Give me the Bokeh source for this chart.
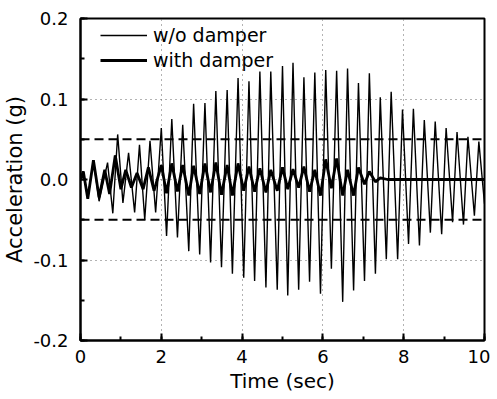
from bokeh.plotting import figure
from bokeh.models import (Range1d, Span, Legend, LegendItem,
                          SingleIntervalTicker, NumeralTickFormatter)
from bokeh.embed import file_html
from bokeh.resources import INLINE

# ---- data (extrema of each record) ----
t_wo = [0.00, 0.07, 0.18, 0.32, 0.46, 0.67, 0.80, 0.92, 1.05, 1.19, 1.34, 1.46,
        1.59, 1.72, 1.86, 2.00, 2.13, 2.26, 2.40, 2.53, 2.68, 2.80, 2.95, 3.08,
        3.22, 3.35, 3.49, 3.63, 3.76, 3.90, 4.04, 4.17, 4.31, 4.44, 4.59, 4.71,
        4.87, 5.00, 5.13, 5.26, 5.40, 5.53, 5.67, 5.80, 5.94, 6.07, 6.21, 6.34,
        6.49, 6.61, 6.76, 6.88, 7.03, 7.15, 7.30, 7.42, 7.57, 7.69, 7.85, 7.97,
        8.12, 8.24, 8.39, 8.51, 8.66, 8.78, 8.94, 9.05, 9.21, 9.32, 9.48, 9.59,
        9.75, 9.86, 10.00]
a_wo = [0.000, 0.010, -0.024, 0.024, -0.027, 0.021, -0.042, 0.056, -0.029, 0.033,
        -0.041, 0.043, -0.050, 0.048, -0.041, 0.064, -0.070, 0.075, -0.072, 0.068,
        -0.089, 0.094, -0.093, 0.095, -0.103, 0.110, -0.109, 0.111, -0.117, 0.126,
        -0.122, 0.122, -0.126, 0.134, -0.134, 0.134, -0.137, 0.141, -0.144, 0.145,
        -0.137, 0.127, -0.127, 0.133, -0.142, 0.136, -0.111, 0.135, -0.152, 0.138,
        -0.138, 0.120, -0.126, 0.132, -0.117, 0.102, -0.099, 0.109, -0.099, 0.087,
        -0.080, 0.088, -0.082, 0.074, -0.066, 0.072, -0.068, 0.064, -0.053, 0.059,
        -0.056, 0.053, -0.045, 0.047, -0.030]

t_w = [0.00, 0.07, 0.18, 0.32, 0.46, 0.60, 0.72, 0.86, 1.00, 1.12, 1.26, 1.40,
       1.55, 1.68, 1.82, 2.00, 2.13, 2.26, 2.40, 2.53, 2.68, 2.80, 2.95, 3.08,
       3.22, 3.35, 3.49, 3.63, 3.76, 3.90, 4.04, 4.17, 4.31, 4.44, 4.59, 4.71,
       4.87, 5.00, 5.13, 5.26, 5.40, 5.53, 5.67, 5.80, 5.94, 6.07, 6.21, 6.34,
       6.49, 6.61, 6.76, 6.88, 7.03, 7.15, 7.30, 7.42, 7.60, 10.00]
a_w = [0.000, 0.010, -0.024, 0.024, -0.022, 0.012, -0.018, 0.030, -0.012, 0.012,
       -0.010, 0.008, -0.012, 0.015, -0.014, 0.018, -0.017, 0.020, -0.015, 0.018,
       -0.020, 0.017, -0.018, 0.020, -0.016, 0.021, -0.019, 0.018, -0.020, 0.020,
       -0.014, 0.016, -0.015, 0.014, -0.016, 0.012, -0.014, 0.015, -0.012, 0.013,
       -0.010, 0.016, -0.015, 0.012, -0.020, 0.025, -0.011, 0.026, -0.020, 0.012,
       -0.020, 0.015, -0.006, 0.010, -0.003, 0.002, 0.000, 0.000]

thresholds = [0.05, -0.05]
series_names = ["w/o damper", "with damper"]
x_label = "Time (sec)"
y_label = "Acceleration (g)"

FONT = "DejaVu Sans"

p = figure(width=490, height=395, output_backend="svg", toolbar_location=None,
           x_range=Range1d(0, 10), y_range=Range1d(-0.2, 0.2),
           min_border_left=80, min_border_top=18, min_border_right=6,
           min_border_bottom=53)
p.background_fill_color = "white"
p.border_fill_color = "white"
p.outline_line_color = "black"
p.outline_line_width = 2

xt = SingleIntervalTicker(interval=2, num_minor_ticks=2)
yt = SingleIntervalTicker(interval=0.1, num_minor_ticks=2)
p.xaxis.ticker = xt
p.yaxis.ticker = yt
p.xgrid.ticker = xt
p.ygrid.ticker = yt
p.yaxis.formatter = NumeralTickFormatter(format="0.0")

for ax in (p.xaxis[0], p.yaxis[0]):
    ax.axis_line_color = "black"
    ax.axis_line_width = 2
    ax.major_tick_in = 7
    ax.major_tick_out = 0
    ax.minor_tick_in = 4
    ax.minor_tick_out = 0
    ax.major_tick_line_width = 2
    ax.minor_tick_line_width = 2
    ax.major_tick_line_color = "black"
    ax.minor_tick_line_color = "black"
    ax.major_label_text_font = FONT
    ax.major_label_text_font_size = "18px"
    ax.major_label_text_color = "black"
    ax.axis_label_text_font = FONT
    ax.axis_label_text_font_style = "normal"
    ax.axis_label_text_color = "black"

p.xaxis.major_label_standoff = 9
p.yaxis.major_label_standoff = 12
p.xaxis.axis_label = x_label
p.xaxis.axis_label_text_font_size = "20px"
p.xaxis.axis_label_standoff = 3
p.yaxis.axis_label = y_label
p.yaxis.axis_label_text_font_size = "21px"
p.yaxis.axis_label_standoff = 3

for g in (p.xgrid[0], p.ygrid[0]):
    g.grid_line_color = "#666666"
    g.grid_line_width = 1
    g.grid_line_dash = "1 4"

r1 = p.line(t_wo, a_wo, line_color="black", line_width=1.4)
r2 = p.line(t_w, a_w, line_color="black", line_width=2.8)

for th in thresholds:
    p.add_layout(Span(location=th, dimension="width", line_color="black",
                      line_width=2, line_dash="9 5"))

legend = Legend(items=[LegendItem(label=series_names[0], renderers=[r1]),
                       LegendItem(label=series_names[1], renderers=[r2])],
                location=(15, 264), padding=5, margin=0, spacing=3,
                glyph_width=47, glyph_height=20, label_height=20,
                label_standoff=6, label_text_font=FONT,
                label_text_font_size="19px", label_text_color="black",
                background_fill_alpha=0, border_line_alpha=0)
p.add_layout(legend)

open("out.html", "w").write(file_html(p, INLINE))
